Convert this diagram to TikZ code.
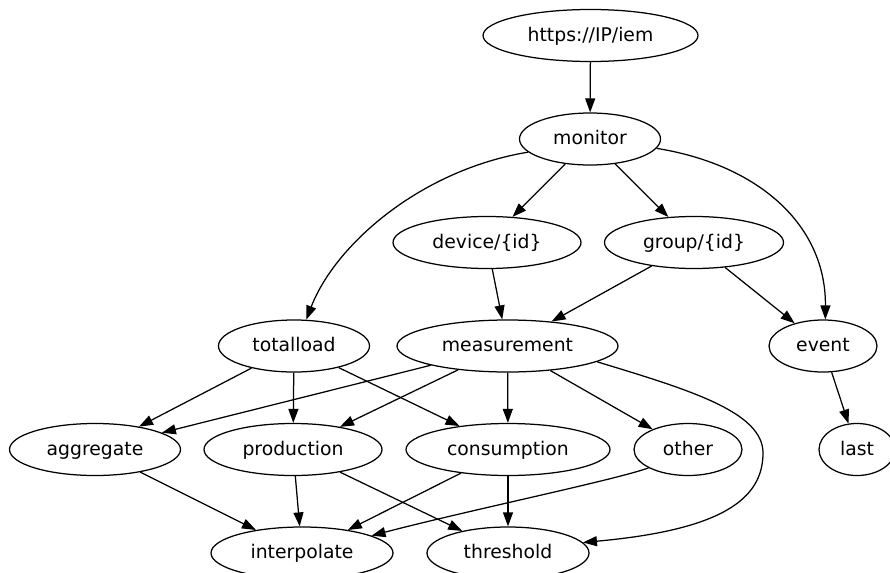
\documentclass[tikz,border=0pt]{standalone}
\usepackage{fontspec}
\setmainfont{DejaVu Sans}
\usetikzlibrary{shapes.geometric,arrows.meta}
\begin{document}
\begin{tikzpicture}[x=1pt,y=-1pt,
  res/.style={ellipse, draw, line width=1.25pt, inner sep=0pt,
    minimum height=52pt, text height=14.5pt, text depth=3.3pt,
    font=\fontsize{18.8}{22}\selectfont},
  link/.style={-{Triangle[length=14pt,width=10pt]}, line width=1.25pt}]
\useasboundingbox (0,0) rectangle (890,572);
\clip (0,0) rectangle (890,572);

% resource nodes, row by row
\node[res, minimum width=215pt] (iem) at (590.5,35.5) {https://IP/iem};
\node[res, minimum width=141pt] (monitor) at (590,139) {monitor};
\node[res, minimum width=188pt] (device) at (487,242.5) {device/\{id\}};
\node[res, minimum width=179pt] (group) at (694,242.5) {group/\{id\}};
\node[res, minimum width=151pt] (totalload) at (294,346) {totalload};
\node[res, minimum width=221pt] (measurement) at (507.5,346) {measurement};
\node[res, minimum width=108pt] (event) at (823,346) {event};
\node[res, minimum width=171pt] (aggregate) at (95,449.5) {aggregate};
\node[res, minimum width=178pt] (production) at (293,449.5) {production};
\node[res, minimum width=204pt] (consumption) at (508,449.5) {consumption};
\node[res, minimum width=108pt] (other) at (688,449.5) {other};
\node[res, minimum width=76pt] (last) at (857,449.5) {last};
\node[res, minimum width=182pt] (interpolate) at (302,553) {interpolate};
\node[res, minimum width=162pt] (threshold) at (508,553) {threshold};

% straight links
\draw[link] (iem) -- (monitor);
\draw[link] (monitor) -- (device);
\draw[link] (monitor) -- (group);
\draw[link] (device) -- (measurement);
\draw[link] (group) -- (measurement);
\draw[link] (group) -- (event);
\draw[link] (totalload) -- (aggregate);
\draw[link] (totalload) -- (production);
\draw[link] (totalload) -- (consumption);
\draw[link] (measurement) -- (aggregate);
\draw[link] (measurement) -- (production);
\draw[link] (measurement) -- (consumption);
\draw[link] (measurement) -- (other);
\draw[link] (event) -- (last);
\draw[link] (aggregate) -- (interpolate);
\draw[link] (production) -- (interpolate);
\draw[link] (production) -- (threshold);
\draw[link] (consumption) -- (interpolate);
\draw[link] (consumption) -- (threshold);

% curved links
\draw[link] (monitor.192) .. controls (420,170) and (335,245) .. (totalload.65);
\draw[link] (monitor.352) .. controls (760,165) and (826,226) .. (event.85);
\draw[link] (other.205) .. controls (615,480) and (470,510) .. (interpolate.14);
\draw[link] (measurement.350) .. controls (690,390) and (763,412) .. (763,453)
  .. controls (763,500) and (720,530) .. (threshold.8);
\end{tikzpicture}
\end{document}
